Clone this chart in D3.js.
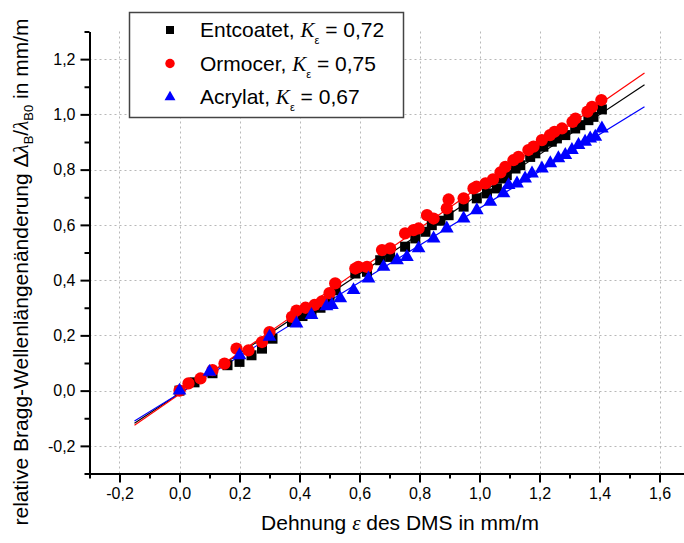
<!DOCTYPE html>
<html>
  <head>
    <meta charset="utf-8" />
    <title>Bragg-Wellenlängenänderung über Dehnung</title>
    <style>
      body { margin: 0; background: #fff; }
      text { font-family: "Liberation Sans", Arial, sans-serif; fill: #000; }
      .serif { font-family: "Liberation Serif", "Times New Roman", serif; font-style: italic; }
    </style>
  </head>
  <body>
    <svg id="chart" width="684" height="543"></svg>
    <script src="https://d3js.org/d3.v7.min.js"></script>
    <script>
      // tick values
      const xMajor = [-0.2, 0, 0.2, 0.4, 0.6, 0.8, 1.0, 1.2, 1.4, 1.6];
      const xMinor = [-0.3, -0.1, 0.1, 0.3, 0.5, 0.7, 0.9, 1.1, 1.3, 1.5, 1.7];
      const yMajor = [-0.2, 0, 0.2, 0.4, 0.6, 0.8, 1.0, 1.2];
      const yMinor = [-0.3, -0.1, 0.1, 0.3, 0.5, 0.7, 0.9, 1.1, 1.3];

      // measured points [strain, rel. wavelength change]
      const entcoatet = [
        [0.0, 0.0], [0.05, 0.03], [0.11, 0.063], [0.16, 0.092], [0.2, 0.104],
        [0.24, 0.128], [0.275, 0.152], [0.31, 0.188], [0.375, 0.249], [0.41, 0.27],
        [0.44, 0.285], [0.47, 0.3], [0.5, 0.33], [0.52, 0.363], [0.586, 0.424],
        [0.625, 0.43], [0.669, 0.472], [0.702, 0.484], [0.752, 0.521], [0.786, 0.551],
        [0.82, 0.575], [0.841, 0.599], [0.87, 0.615], [0.897, 0.635], [0.947, 0.666],
        [0.991, 0.696], [1.025, 0.714], [1.058, 0.732], [1.075, 0.768], [1.091, 0.78],
        [1.12, 0.804], [1.136, 0.816], [1.169, 0.846], [1.186, 0.859], [1.213, 0.883],
        [1.241, 0.901], [1.258, 0.913], [1.286, 0.925], [1.319, 0.949], [1.336, 0.961],
        [1.363, 0.979], [1.38, 0.991], [1.408, 1.018]
      ];
      const ormocer = [
        [0.0, 0.0], [0.03, 0.026], [0.07, 0.044], [0.11, 0.074], [0.15, 0.098],
        [0.19, 0.152], [0.23, 0.146], [0.275, 0.176], [0.3, 0.212], [0.375, 0.267],
        [0.39, 0.29], [0.42, 0.3], [0.45, 0.31], [0.475, 0.323], [0.5, 0.353],
        [0.519, 0.388], [0.586, 0.442], [0.596, 0.448], [0.625, 0.448], [0.675, 0.509],
        [0.702, 0.515], [0.752, 0.569], [0.78, 0.581], [0.797, 0.587], [0.825, 0.635],
        [0.847, 0.623], [0.891, 0.66], [0.897, 0.692], [0.947, 0.696], [0.98, 0.732],
        [0.99, 0.738], [1.02, 0.75], [1.045, 0.765], [1.07, 0.79], [1.086, 0.81],
        [1.113, 0.834], [1.13, 0.846], [1.163, 0.871], [1.18, 0.883], [1.208, 0.907],
        [1.235, 0.925], [1.25, 0.937], [1.275, 0.949], [1.31, 0.973], [1.32, 0.985],
        [1.36, 1.01], [1.375, 1.027], [1.406, 1.052]
      ];
      const acrylat = [
        [0.0, 0.0], [0.1, 0.068], [0.2, 0.128], [0.3, 0.195], [0.39, 0.243],
        [0.44, 0.274], [0.49, 0.305], [0.508, 0.31], [0.536, 0.334], [0.58, 0.364],
        [0.63, 0.406], [0.68, 0.448], [0.725, 0.472], [0.758, 0.484], [0.797, 0.515],
        [0.847, 0.551], [0.891, 0.587], [0.947, 0.623], [0.991, 0.653], [1.036, 0.684],
        [1.08, 0.714], [1.097, 0.744], [1.125, 0.75], [1.152, 0.768], [1.175, 0.786],
        [1.208, 0.804], [1.236, 0.823], [1.263, 0.841], [1.286, 0.853], [1.308, 0.871],
        [1.33, 0.889], [1.352, 0.901], [1.369, 0.913], [1.386, 0.919], [1.408, 0.949]
      ];

      // fitted lines (start and end point)
      const fitEntcoatet = [[-0.15, -0.118], [1.55, 1.107]];
      const fitOrmocer = [[-0.15, -0.125], [1.55, 1.15]];
      const fitAcrylat = [[-0.15, -0.11], [1.55, 1.028]];

      const seriesNames = ["Entcoatet", "Ormocer", "Acrylat"];
      const kValues = ["0,72", "0,75", "0,67"];

      const series = [
        { name: seriesNames[0], k: kValues[0], pts: entcoatet, fit: fitEntcoatet, color: "#000000", shape: d3.symbolSquare, size: 100, legendSize: 64 },
        { name: seriesNames[1], k: kValues[1], pts: ormocer, fit: fitOrmocer, color: "#ff0000", shape: d3.symbolCircle, size: 118, legendSize: 70 },
        { name: seriesNames[2], k: kValues[2], pts: acrylat, fit: fitAcrylat, color: "#0000ff", shape: d3.symbolTriangle, size: 82, legendSize: 52 }
      ];

      const svg = d3.select("#chart");

      let x = d3.scaleLinear().domain([-0.3, 1.7]).range([89.5, 689.5]);
      let y = d3.scaleLinear().domain([-0.3, 1.3]).range([473.5, 31.5]);

      const fmt = (d) => d.toFixed(1).replace(".", ",");

      // grid
      let grid = svg.append("g")
        .attr("stroke", "#b8b8b8")
        .attr("stroke-width", 1)
        .attr("stroke-dasharray", "2,3");
      grid.selectAll(".vg").data(xMajor).enter().append("line")
        .attr("x1", (d) => Math.round(x(d)) + 0.5).attr("x2", (d) => Math.round(x(d)) + 0.5)
        .attr("y1", y(-0.3)).attr("y2", y(1.3));
      grid.selectAll(".hg").data(yMajor).enter().append("line")
        .attr("y1", (d) => Math.round(y(d)) + 0.5).attr("y2", (d) => Math.round(y(d)) + 0.5)
        .attr("x1", x(-0.3)).attr("x2", 684);

      // fit lines
      let line = d3.line().x((d) => x(d[0])).y((d) => y(d[1]));
      svg.append("g").selectAll("path").data(series).enter().append("path")
        .attr("d", (d) => line(d.fit))
        .attr("fill", "none")
        .attr("stroke", (d) => d.color)
        .attr("stroke-width", 1.2);

      // points
      series.forEach(function (s) {
        svg.append("g").selectAll("path").data(s.pts).enter().append("path")
          .attr("transform", (d) => "translate(" + x(d[0]) + "," + y(d[1]) + ")")
          .attr("d", d3.symbol().type(s.shape).size(s.size))
          .attr("fill", s.color);
      });

      // axes
      let xAxis = svg.append("g").attr("transform", "translate(0," + y(-0.3) + ")");
      xAxis.call(d3.axisBottom(x).tickValues(xMajor).tickSize(9).tickSizeOuter(0).tickPadding(5).tickFormat(fmt));
      let xMin = svg.append("g").attr("transform", "translate(0," + y(-0.3) + ")");
      xMin.call(d3.axisBottom(x).tickValues(xMinor).tickSize(5).tickSizeOuter(0).tickFormat(""));
      xMin.select(".domain").remove();

      let yAxis = svg.append("g").attr("transform", "translate(" + x(-0.3) + ",0)");
      yAxis.call(d3.axisLeft(y).tickValues(yMajor).tickSize(9).tickSizeOuter(0).tickPadding(5).tickFormat(fmt));
      let yMin = svg.append("g").attr("transform", "translate(" + x(-0.3) + ",0)");
      yMin.call(d3.axisLeft(y).tickValues(yMinor).tickSize(5).tickSizeOuter(0).tickFormat(""));
      yMin.select(".domain").remove();

      svg.selectAll(".domain").attr("stroke", "#000").attr("stroke-width", 2);
      svg.selectAll(".tick line").attr("stroke", "#000").attr("stroke-width", 2);
      svg.selectAll(".tick text")
        .attr("font-family", "'Liberation Sans', Arial, sans-serif")
        .attr("font-size", 16)
        .attr("fill", "#000");

      // axis titles
      let xTitle = svg.append("text")
        .attr("x", 400).attr("y", 530)
        .attr("text-anchor", "middle")
        .attr("font-size", 21);
      xTitle.append("tspan").text("Dehnung ");
      xTitle.append("tspan").attr("class", "serif").text("ε");
      xTitle.append("tspan").text(" des DMS in mm/m");

      let yTitle = svg.append("text")
        .attr("transform", "translate(28,272) rotate(-90)")
        .attr("text-anchor", "middle")
        .attr("font-size", 21);
      yTitle.append("tspan").text("relative Bragg-Wellenlängenänderung Δ");
      yTitle.append("tspan").attr("class", "serif").text("λ");
      yTitle.append("tspan").attr("font-size", 13).attr("dy", 5).text("B");
      yTitle.append("tspan").attr("dy", -5).text("/");
      yTitle.append("tspan").attr("class", "serif").text("λ");
      yTitle.append("tspan").attr("font-size", 13).attr("dy", 5).text("B0");
      yTitle.append("tspan").attr("dy", -5).text(" in mm/m");

      // legend
      let legend = svg.append("g");
      legend.append("rect")
        .attr("x", 129.5).attr("y", 12.5)
        .attr("width", 274).attr("height", 105)
        .attr("fill", "#fff")
        .attr("stroke", "#444")
        .attr("stroke-width", 1.5);
      series.forEach(function (s, i) {
        let cy = 30 + i * 33.5;
        legend.append("path")
          .attr("transform", "translate(170," + cy + ")")
          .attr("d", d3.symbol().type(s.shape).size(s.legendSize))
          .attr("fill", s.color);
        let t = legend.append("text")
          .attr("x", 200).attr("y", cy + 7)
          .attr("font-size", 21);
        t.append("tspan").text(s.name + ", ");
        t.append("tspan").attr("class", "serif").text("K");
        t.append("tspan").attr("font-size", 11).attr("dy", 7).text("ε");
        t.append("tspan").attr("dy", -7).text(" = " + s.k);
      });
    </script>
  </body>
</html>
